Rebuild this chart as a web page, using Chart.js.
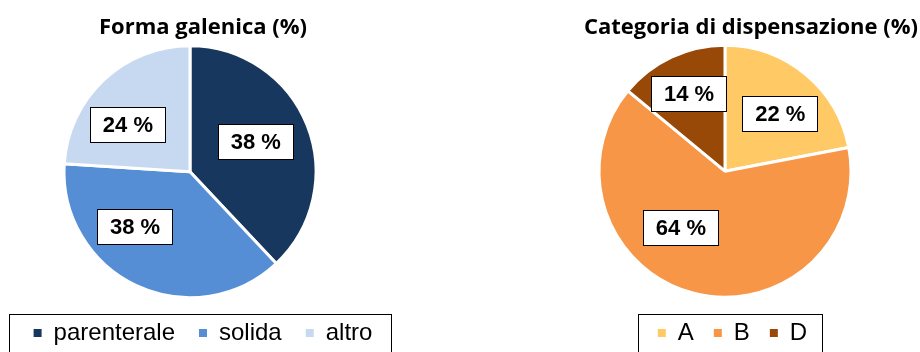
<!DOCTYPE html>
<html>
<head>
<meta charset="utf-8">
<script src="https://cdn.jsdelivr.net/npm/chart.js@4"></script>
<style>
  html, body { margin: 0; padding: 0; background: #fff; width: 920px; height: 352px; overflow: hidden; }
  .pane { position: absolute; top: 0; }
  #left { left: 3px; }
  #right { left: 520px; }
</style>
</head>
<body>
<div class="pane" id="left"><canvas id="forma" width="400" height="355"></canvas></div>
<div class="pane" id="right"><canvas id="categoria" width="400" height="355"></canvas></div>
<script>
// data
const formaTitle = 'Forma galenica (%)';
const formaLabels = ['parenterale', 'solida', 'altro'];
const formaValues = [38, 38, 24];
const formaColors = ['#17375E', '#558ED5', '#C6D9F1'];

const catTitle = 'Categoria di dispensazione (%)';
const catLabels = ['A', 'B', 'D'];
const catValues = [22, 64, 14];
const catColors = ['#FFCA66', '#F79646', '#984807'];

// boxed value labels + frame around the legend
const boxedLabels = {
  id: 'boxedLabels',
  afterDatasetsDraw(chart, args, opts) {
    const ctx = chart.ctx;
    const meta = chart.getDatasetMeta(0);
    const values = chart.data.datasets[0].data;
    ctx.save();
    ctx.font = 'bold 22px "Liberation Sans", Arial, sans-serif';
    ctx.textAlign = 'center';
    ctx.textBaseline = 'middle';
    meta.data.forEach((arc, i) => {
      const p = arc.getProps(['x', 'y', 'startAngle', 'endAngle', 'outerRadius'], true);
      const a = (p.startAngle + p.endAngle) / 2 + opts.shift[i] * Math.PI / 180;
      const r = p.outerRadius * opts.dist[i];
      const cx = p.x + Math.cos(a) * r;
      const cy = p.y + Math.sin(a) * r;
      const text = values[i] + ' %';
      const w = Math.round(ctx.measureText(text).width + 25);
      const h = 35;
      const x0 = Math.round(cx - w / 2), y0 = Math.round(cy - h / 2);
      ctx.fillStyle = '#fff';
      ctx.fillRect(x0, y0, w, h);
      ctx.strokeStyle = '#000';
      ctx.lineWidth = 1;
      ctx.strokeRect(x0 + 0.5, y0 + 0.5, w, h);
      ctx.fillStyle = '#000';
      ctx.fillText(text, cx + 0.5, cy + 1.5);
    });
    ctx.restore();
  },
  afterDraw(chart, args, opts) {
    const boxes = chart.legend.legendHitBoxes;
    if (!boxes || !boxes.length) return;
    const left = Math.min(...boxes.map(b => b.left)) - opts.frameLeft;
    const right = Math.max(...boxes.map(b => b.left + b.width)) + opts.frameRight;
    const top = boxes[0].top - 7;
    const ctx = chart.ctx;
    ctx.save();
    ctx.strokeStyle = '#000';
    ctx.lineWidth = 1;
    ctx.strokeRect(Math.round(left) + 0.5, Math.round(top) + 0.5, Math.round(right - left), 80);
    ctx.restore();
  }
};

// empty side box: narrows the pie area only, title and legend keep full width
function gapBox(side, size) {
  return {
    id: 'gapBox',
    beforeInit(chart) {
      Chart.layouts.addBox(chart, {
        position: side, fullSize: false, weight: 0, options: {},
        width: 0, height: 0, left: 0, top: 0, right: 0, bottom: 0,
        isHorizontal() { return false; },
        update(maxWidth, maxHeight) { this.width = size; this.height = maxHeight; },
        draw() {}
      });
    }
  };
}

const baseLegendLabels = Chart.overrides.doughnut.plugins.legend.labels.generateLabels;

function makePie(id, title, titleAlign, labels, values, colors, pad, titlePad, legendPad, gap, place) {
  return new Chart(document.getElementById(id), {
    type: 'pie',
    data: {
      labels: labels,
      datasets: [{
        data: values,
        backgroundColor: colors,
        borderColor: '#fff',
        borderWidth: 3,
        hoverOffset: 0,
        radius: 126
      }]
    },
    options: {
      responsive: false,
      animation: false,
      layout: { padding: pad },
      plugins: {
        title: {
          display: true,
          text: title,
          align: titleAlign,
          color: '#000',
          font: { family: '"Open Sans"', weight: 'bold', size: 22, lineHeight: 1.2 },
          padding: titlePad
        },
        legend: {
          position: 'bottom',
          labels: {
            boxWidth: 8,
            boxHeight: 8,
            padding: legendPad,
            color: '#000',
            font: { family: '"Liberation Sans", Arial, sans-serif', size: 24 },
            generateLabels: (chart) => baseLegendLabels(chart).map(l => Object.assign(l, { lineWidth: 0 }))
          }
        },
        tooltip: { enabled: false },
        boxedLabels: place
      }
    },
    plugins: [boxedLabels, gap]
  });
}

makePie('forma', formaTitle, 'center', formaLabels, formaValues, formaColors,
  { left: 0, right: 0 }, { top: 15, bottom: 5 }, 24, gapBox('right', 26),
  { shift: [-3, 20, -10], dist: [0.57, 0.62, 0.62], frameLeft: 25, frameRight: 18 });

makePie('categoria', catTitle, 'end', catLabels, catValues, catColors,
  { left: 27, right: 2 }, { top: 15, bottom: 0 }, 20, gapBox('right', 15),
  { shift: [4, 24, 0], dist: [0.63, 0.57, 0.68], frameLeft: 20, frameRight: 15 });
</script>
</body>
</html>
